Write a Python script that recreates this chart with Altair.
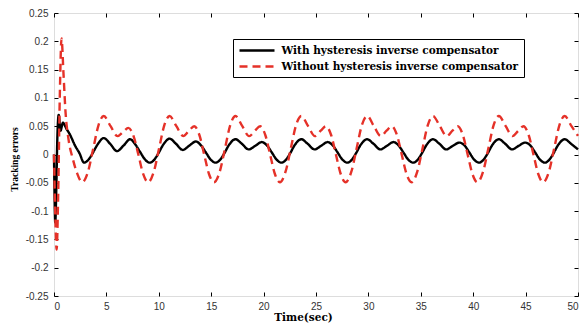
import altair as alt
import pandas as pd

# ---- data ----
series_names = ["With hysteresis inverse compensator",
                "Without hysteresis inverse compensator"]

time_with = [0.0, 0.05, 0.12, 0.22, 0.32, 0.45, 0.62, 0.85, 1.2, 1.5, 2.0, 2.44,
             2.86, 3.25, 3.65, 4.15, 4.75, 5.35, 6.01, 6.65, 7.26, 7.75, 8.20, 8.65,
             9.14, 9.53, 9.93, 10.43, 11.03, 11.63, 12.29, 12.93, 13.54, 14.03, 14.48, 14.93,
             15.43, 15.82, 16.22, 16.72, 17.32, 17.92, 18.58, 19.22, 19.83, 20.32, 20.77, 21.22,
             21.71, 22.10, 22.50, 23.00, 23.60, 24.20, 24.86, 25.50, 26.11, 26.60, 27.05, 27.50,
             27.99, 28.38, 28.78, 29.28, 29.88, 30.48, 31.14, 31.78, 32.39, 32.88, 33.33, 33.78,
             34.28, 34.67, 35.07, 35.57, 36.17, 36.77, 37.43, 38.07, 38.68, 39.17, 39.62, 40.07,
             40.56, 40.95, 41.35, 41.85, 42.45, 43.05, 43.71, 44.35, 44.96, 45.45, 45.90, 46.35,
             46.84, 47.23, 47.63, 48.13, 48.73, 49.33, 50.0]
error_with = [0.0, -0.07, -0.12, -0.06, 0.03, 0.07, 0.042, 0.056, 0.045, 0.036, 0.016, 0.002,
              -0.0144, -0.010, 0.001, 0.0175, 0.029, 0.019, 0.006, 0.016, 0.027, 0.018, 0.005, -0.008,
              -0.0144, -0.010, 0.001, 0.0175, 0.028, 0.019, 0.008, 0.016, 0.023, 0.016, 0.004, -0.0086,
              -0.0144, -0.010, 0.001, 0.0175, 0.027, 0.019, 0.009, 0.0155, 0.022, 0.016, 0.004, -0.0086,
              -0.0144, -0.010, 0.001, 0.0175, 0.027, 0.019, 0.009, 0.0155, 0.022, 0.016, 0.004, -0.0086,
              -0.0144, -0.010, 0.001, 0.0175, 0.027, 0.019, 0.009, 0.0155, 0.022, 0.016, 0.004, -0.0086,
              -0.0144, -0.010, 0.001, 0.0175, 0.027, 0.019, 0.009, 0.0155, 0.021, 0.016, 0.004, -0.0086,
              -0.0144, -0.010, 0.001, 0.0175, 0.027, 0.019, 0.009, 0.0155, 0.021, 0.016, 0.004, -0.0086,
              -0.0144, -0.010, 0.001, 0.0175, 0.027, 0.019, 0.009]

time_without = [0.0, 0.1, 0.25, 0.4, 0.55, 0.72, 0.9, 1.1, 1.4, 1.8, 2.2,
                2.70, 3.25, 3.75, 4.25, 4.75, 5.40, 6.05, 6.60, 7.10, 7.60, 8.05, 8.50,
                8.98, 9.53, 10.03, 10.53, 11.03, 11.68, 12.33, 12.88, 13.38, 13.88, 14.33, 14.78,
                15.27, 15.82, 16.32, 16.82, 17.32, 17.97, 18.62, 19.17, 19.67, 20.17, 20.62, 21.07,
                21.55, 22.10, 22.60, 23.10, 23.60, 24.25, 24.90, 25.45, 25.95, 26.45, 26.90, 27.35,
                27.83, 28.38, 28.88, 29.38, 29.88, 30.53, 31.18, 31.73, 32.23, 32.73, 33.18, 33.63,
                34.12, 34.67, 35.17, 35.67, 36.17, 36.82, 37.47, 38.02, 38.52, 39.02, 39.47, 39.92,
                40.40, 40.95, 41.45, 41.95, 42.45, 43.10, 43.75, 44.30, 44.80, 45.30, 45.75, 46.20,
                46.68, 47.23, 47.73, 48.23, 48.73, 49.38, 50.0]
error_without = [0.0, -0.09, -0.168, -0.07, 0.10, 0.205, 0.145, 0.075, 0.025, -0.008, -0.033,
                 -0.049, -0.030, 0.011, 0.052, 0.068, 0.050, 0.0325, 0.040, 0.047, 0.032, 0.0, -0.034,
                 -0.049, -0.030, 0.011, 0.052, 0.068, 0.050, 0.0325, 0.042, 0.050, 0.034, 0.0, -0.034,
                 -0.049, -0.030, 0.011, 0.052, 0.068, 0.050, 0.0325, 0.042, 0.050, 0.034, 0.0, -0.034,
                 -0.049, -0.030, 0.011, 0.052, 0.068, 0.050, 0.0325, 0.042, 0.050, 0.034, 0.0, -0.034,
                 -0.049, -0.030, 0.011, 0.052, 0.068, 0.050, 0.0325, 0.042, 0.050, 0.034, 0.0, -0.034,
                 -0.049, -0.030, 0.011, 0.052, 0.068, 0.050, 0.0325, 0.042, 0.050, 0.034, 0.0, -0.034,
                 -0.049, -0.030, 0.011, 0.052, 0.068, 0.050, 0.0325, 0.042, 0.050, 0.034, 0.0, -0.034,
                 -0.049, -0.030, 0.011, 0.052, 0.068, 0.050, 0.033]

x_ticks = [0, 5, 10, 15, 20, 25, 30, 35, 40, 45, 50]
y_ticks = [-0.25, -0.2, -0.15, -0.1, -0.05, 0, 0.05, 0.1, 0.15, 0.2, 0.25]

# ---- table ----
df = pd.concat([
    pd.DataFrame({"time": time_with, "error": error_with, "series": series_names[0]}),
    pd.DataFrame({"time": time_without, "error": error_without, "series": series_names[1]}),
], ignore_index=True)

label_font = "Liberation Sans"
serif_bold = "DejaVu Serif"

x_scale = alt.Scale(domain=[0, 50], nice=False, zero=False)
y_scale = alt.Scale(domain=[-0.25, 0.25], nice=False, zero=False)

legend = alt.Legend(
    title=None, orient="none", legendX=179, legendY=26,
    direction="vertical",
    strokeColor="black", fillColor="white", padding=5,
    symbolType="M-3.5,0L3.5,0", symbolStrokeWidth=2.4, symbolSize=100,
    symbolOffset=12.5,
    labelFont=serif_bold, labelFontWeight="bold", labelFontSize=10.5,
    labelColor="black", labelLimit=0, labelOffset=18, rowPadding=4,
)

lines = alt.Chart(df).mark_line(strokeWidth=2.4, interpolate="monotone").encode(
    x=alt.X("time:Q", scale=x_scale, axis=alt.Axis(
        values=x_ticks, title="Time(sec)", domain=False, grid=False,
        tickSize=4, offset=-4, tickColor="black", labelPadding=5,
        labelFont=label_font, labelFontSize=10, labelColor="#333",
        titleFont=serif_bold, titleFontWeight="bold", titleFontSize=10.5,
        titleColor="black", titlePadding=1, titleX=249)),
    y=alt.Y("error:Q", scale=y_scale, axis=alt.Axis(
        values=y_ticks, title="Tracking errors", domain=False, grid=False,
        tickSize=4, offset=-4, tickColor="black", labelPadding=6,
        labelExpr="toString(datum.value)",
        labelFont=label_font, labelFontSize=10, labelColor="#333",
        titleFont="Liberation Serif", titleFontWeight="bold", titleFontSize=9.5,
        titleColor="black", titleX=-44, titleY=146, titleAngle=-90,
        titleAlign="center", titleBaseline="middle")),
    color=alt.Color("series:N", scale=alt.Scale(domain=series_names,
                                                range=["#000000", "#e53128"]),
                    legend=legend),
    strokeDash=alt.StrokeDash("series:N", scale=alt.Scale(domain=series_names,
                                                          range=[[1, 0], [8, 5]]),
                              legend=legend),
)

frame = alt.Chart(df).mark_point(opacity=0, size=1).encode(
    x=alt.X("time:Q", scale=x_scale, axis=alt.Axis(
        orient="top", values=x_ticks, title=None, labels=False, domain=False,
        grid=False, tickSize=4, offset=-4, tickColor="black")),
    y=alt.Y("error:Q", scale=y_scale, axis=alt.Axis(
        orient="right", values=y_ticks, title=None, labels=False, domain=False,
        grid=False, tickSize=4, offset=-4, tickColor="black")),
)

chart = alt.layer(lines, frame).resolve_axis(
    x="independent", y="independent"
).properties(
    width=524, height=283,
    autosize=alt.AutoSizeParams(type="none"),
    padding={"left": 46, "top": 5, "right": 1, "bottom": 27},
).configure_view(
    stroke="black", strokeWidth=1
).configure(background="white")

chart.save("out.html", embed_options={"renderer": "svg", "actions": False})
